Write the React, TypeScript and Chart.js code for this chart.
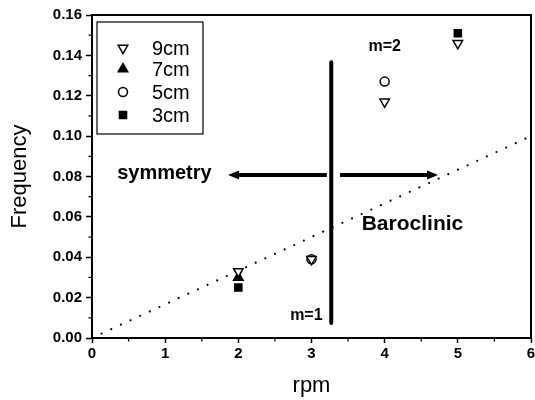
import React, { useEffect, useRef } from 'react';
import { Chart, registerables } from 'chart.js';
import { drawPoint } from 'chart.js/helpers';

Chart.register(...registerables);

// ---- data ----
const rpm9 = [2, 3, 4, 5];
const freq9 = [0.033, 0.039, 0.117, 0.146];
const rpm7 = [2];
const freq7 = [0.03];
const rpm5 = [3, 4];
const freq5 = [0.039, 0.127];
const rpm3 = [2, 5];
const freq3 = [0.025, 0.151];

const trendRpm = [0, 6];
const trendFreq = [0, 0.1];

const xMinorTicks = [0.5, 1.5, 2.5, 3.5, 4.5, 5.5];
const yMinorTicks = [0.01, 0.03, 0.05, 0.07, 0.09, 0.11, 0.13, 0.15];

const dividerRpm = 3.27;
const dividerFreq = [0.0074, 0.1366];
const arrowFreq = 0.0807;
const arrowLeftRpm = [3.21, 1.86];
const arrowRightRpm = [3.39, 4.73];

const textLabels = ['symmetry', 'Baroclinic', 'm=2', 'm=1'];
const textRpm = [0.99, 4.38, 4.0, 2.93];
const textFreq = [0.0817, 0.0564, 0.1445, 0.0109];
const textSize = [20, 21, 16, 16];

const seriesNames = ['9cm', '7cm', '5cm', '3cm'];

const FONT = '"Liberation Sans", Arial, Helvetica, sans-serif';

const pts = (xs: number[], ys: number[]) => xs.map((x, i) => ({ x, y: ys[i] }));

const seriesStyles = [
  { pointStyle: 'triangle', rotation: 180, radius: 5.5, fill: '#ffffff' },
  { pointStyle: 'triangle', rotation: 0, radius: 5.5, fill: '#000000' },
  { pointStyle: 'circle', rotation: 0, radius: 4.5, fill: '#ffffff' },
  { pointStyle: 'rect', rotation: 0, radius: 5, fill: '#000000' },
];

const annotationPlugin = {
  id: 'annotations',
  afterDatasetsDraw(chart: any) {
    const { ctx, chartArea } = chart;
    const xs = chart.scales.x;
    const ys = chart.scales.y;
    ctx.save();
    ctx.strokeStyle = '#000';
    ctx.fillStyle = '#000';

    // vertical divider
    ctx.lineWidth = 4;
    ctx.lineCap = 'round';
    const dx = xs.getPixelForValue(dividerRpm);
    ctx.beginPath();
    ctx.moveTo(dx, ys.getPixelForValue(dividerFreq[0]));
    ctx.lineTo(dx, ys.getPixelForValue(dividerFreq[1]));
    ctx.stroke();

    // arrows
    const ay = ys.getPixelForValue(arrowFreq);
    const drawArrow = (fromV: number, toV: number) => {
      const x0 = xs.getPixelForValue(fromV);
      const x1 = xs.getPixelForValue(toV);
      const dir = x1 > x0 ? 1 : -1;
      const headLen = 11;
      const headHalf = 4.5;
      ctx.lineCap = 'butt';
      ctx.lineWidth = 4;
      ctx.beginPath();
      ctx.moveTo(x0, ay);
      ctx.lineTo(x1 - dir * headLen, ay);
      ctx.stroke();
      ctx.beginPath();
      ctx.moveTo(x1, ay);
      ctx.lineTo(x1 - dir * headLen, ay - headHalf);
      ctx.lineTo(x1 - dir * headLen, ay + headHalf);
      ctx.closePath();
      ctx.fill();
    };
    drawArrow(arrowLeftRpm[0], arrowLeftRpm[1]);
    drawArrow(arrowRightRpm[0], arrowRightRpm[1]);

    // text labels
    ctx.textAlign = 'center';
    ctx.textBaseline = 'middle';
    textLabels.forEach((t, i) => {
      ctx.font = `bold ${textSize[i]}px ${FONT}`;
      ctx.fillText(t, xs.getPixelForValue(textRpm[i]), ys.getPixelForValue(textFreq[i]));
    });

    // legend box
    const lx = chartArea.left + 5;
    const ly = chartArea.top + 7;
    const lw = 106;
    const lh = 112;
    ctx.fillStyle = '#fff';
    ctx.fillRect(lx, ly, lw, lh);
    ctx.lineWidth = 1.2;
    ctx.strokeStyle = '#000';
    ctx.strokeRect(lx, ly, lw, lh);
    const rowY = [26, 47, 70, 93];
    seriesNames.forEach((name, i) => {
      const st = seriesStyles[i];
      ctx.fillStyle = st.fill;
      ctx.strokeStyle = '#000';
      ctx.lineWidth = 1.5;
      drawPoint(ctx, { pointStyle: st.pointStyle as any, rotation: st.rotation, radius: st.radius, borderWidth: 1.5 }, lx + 26, ly + rowY[i]);
      ctx.fillStyle = '#000';
      ctx.font = `20px ${FONT}`;
      ctx.textAlign = 'left';
      ctx.textBaseline = 'middle';
      ctx.fillText(name, lx + 55, ly + rowY[i] + 1);
    });

    ctx.restore();
  },
  afterDraw(chart: any) {
    const { ctx, chartArea } = chart;
    const xs = chart.scales.x;
    const ys = chart.scales.y;
    ctx.save();
    ctx.strokeStyle = '#000';
    ctx.lineWidth = 2;
    ctx.strokeRect(chartArea.left, chartArea.top, chartArea.right - chartArea.left, chartArea.bottom - chartArea.top);
    ctx.lineWidth = 1.3;
    ctx.beginPath();
    xMinorTicks.forEach((v) => {
      const px = xs.getPixelForValue(v);
      ctx.moveTo(px, chartArea.bottom);
      ctx.lineTo(px, chartArea.bottom + 3.5);
    });
    yMinorTicks.forEach((v) => {
      const py = ys.getPixelForValue(v);
      ctx.moveTo(chartArea.left, py);
      ctx.lineTo(chartArea.left - 3.5, py);
    });
    ctx.stroke();
    ctx.restore();
  },
};

export default function App() {
  const ref = useRef<HTMLCanvasElement | null>(null);

  useEffect(() => {
    document.body.style.margin = '0';
    const canvas = ref.current;
    if (!canvas) return;

    const datasets: any[] = [
      [rpm9, freq9],
      [rpm7, freq7],
      [rpm5, freq5],
      [rpm3, freq3],
    ].map(([xs, ys], i) => ({
      type: 'scatter',
      label: seriesNames[i],
      data: pts(xs as number[], ys as number[]),
      pointStyle: seriesStyles[i].pointStyle,
      rotation: seriesStyles[i].rotation,
      pointRadius: seriesStyles[i].radius,
      pointBackgroundColor: seriesStyles[i].fill,
      pointBorderColor: '#000',
      pointBorderWidth: 1.5,
      showLine: false,
    }));

    datasets.push({
      type: 'line',
      label: 'trend',
      data: pts(trendRpm, trendFreq),
      borderColor: '#000',
      borderWidth: 2.2,
      borderDash: [0, 10.6],
      borderCapStyle: 'round',
      pointRadius: 0,
      fill: false,
    });

    const chart = new Chart(canvas, {
      type: 'scatter',
      data: { datasets },
      options: {
        responsive: false,
        animation: false,
        devicePixelRatio: 1,
        layout: { autoPadding: false, padding: { top: 15, right: 4, left: 0, bottom: 0 } },
        plugins: {
          legend: { display: false },
          tooltip: { enabled: false },
        },
        scales: {
          x: {
            type: 'linear',
            min: 0,
            max: 6,
            afterFit: (s: any) => {
              s.height = 62;
              s.paddingRight = 0;
              s.paddingLeft = 0;
            },
            ticks: {
              stepSize: 1,
              color: '#000',
              padding: 2,
              font: { family: FONT, size: 15, weight: 'bold' },
              maxRotation: 0,
            },
            grid: {
              drawOnChartArea: false,
              drawTicks: true,
              tickLength: 5,
              tickWidth: 1.5,
              tickColor: '#000',
              color: '#000',
            },
            border: { display: true, color: '#000', width: 2 },
            title: {
              display: true,
              text: 'rpm',
              color: '#000',
              font: { family: FONT, size: 22, lineHeight: 1.2 },
              padding: { top: 0, bottom: 1 },
            },
          },
          y: {
            type: 'linear',
            min: 0,
            max: 0.16,
            afterFit: (s: any) => {
              s.width = 92;
              s.paddingTop = 0;
              s.paddingBottom = 0;
            },
            ticks: {
              stepSize: 0.02,
              color: '#000',
              padding: 4,
              font: { family: FONT, size: 15, weight: 'bold' },
              callback: (v: any) => Number(v).toFixed(2),
            },
            grid: {
              drawOnChartArea: false,
              drawTicks: true,
              tickLength: 6,
              tickWidth: 1.5,
              tickColor: '#000',
              color: '#000',
            },
            border: { display: true, color: '#000', width: 2 },
            title: {
              display: true,
              text: 'Frequency',
              color: '#000',
              font: { family: FONT, size: 22, lineHeight: 1.2 },
              padding: { top: 7, bottom: 0 },
            },
          },
        },
      } as any,
      plugins: [annotationPlugin],
    });

    return () => chart.destroy();
  }, []);

  return (
    <div style={{ width: 535, height: 400, background: '#fff' }}>
      <canvas ref={ref} width={535} height={400} style={{ display: 'block' }} />
    </div>
  );
}
